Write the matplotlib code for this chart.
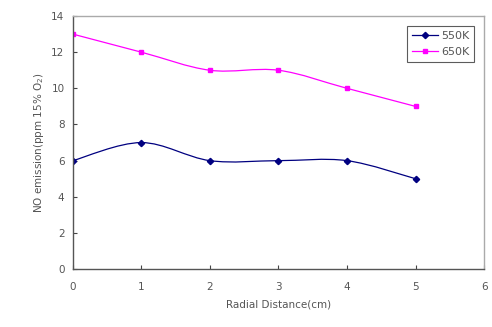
import matplotlib.pyplot as plt
from matplotlib.path import Path
from matplotlib.patches import PathPatch
from matplotlib.lines import Line2D
import numpy as np

radial = [0, 1, 2, 3, 4, 5]
no_550k = [6, 7, 6, 6, 6, 5]
no_650k = [13, 12, 11, 11, 10, 9]


def smooth_path(xs, ys):
    # Catmull-Rom style bezier through the data points (like Excel smoothed lines)
    pts = np.column_stack([xs, ys]).astype(float)
    n = len(pts)
    verts = [pts[0]]
    codes = [Path.MOVETO]
    for i in range(n - 1):
        p0 = pts[i - 1] if i > 0 else pts[i]
        p1 = pts[i]
        p2 = pts[i + 1]
        p3 = pts[i + 2] if i + 2 < n else pts[i + 1]
        verts += [p1 + (p2 - p0) / 6, p2 - (p3 - p1) / 6, p2]
        codes += [Path.CURVE4] * 3
    return Path(verts, codes)


fig = plt.figure(figsize=(4.92, 3.27), dpi=100)
ax = fig.add_axes([0.148, 0.177, 0.836, 0.774])

text_color = '#555555'
series = [(no_550k, '#000080', 'D', 3.2, '550K'),
          (no_650k, '#ff00ff', 's', 3.2, '650K')]
handles = []
for vals, col, mk, ms, lab in series:
    ax.add_patch(PathPatch(smooth_path(radial, vals), facecolor='none',
                           edgecolor=col, lw=0.9))
    ax.plot(radial, vals, linestyle='none', marker=mk, markersize=ms,
            color=col)
    handles.append(Line2D([], [], color=col, lw=0.9, marker=mk,
                          markersize=ms, label=lab))

ax.set_xlim(0, 6)
ax.set_ylim(0, 14)
ax.set_xticks(range(0, 7))
ax.set_yticks(range(0, 15, 2))
ax.tick_params(direction='in', length=3, width=0.8, colors='#444444',
               labelcolor=text_color, labelsize=7.5, pad=6)
ax.tick_params(axis='x', pad=9)
for side in ['left', 'bottom']:
    ax.spines[side].set_color('#555555')
    ax.spines[side].set_linewidth(1.0)
for side in ['top', 'right']:
    ax.spines[side].set_color('#aaaaaa')
    ax.spines[side].set_linewidth(1.0)

ax.set_xlabel('Radial Distance(cm)', fontsize=7.5, color=text_color, labelpad=6)
ax.set_ylabel('NO emission(ppm 15% O$_2$)', fontsize=7.5, color=text_color,
              labelpad=4)

leg = ax.legend(handles=handles, loc='upper right', fontsize=8, frameon=True,
                fancybox=False, edgecolor='#333333', handlelength=2.4,
                borderpad=0.4, labelspacing=0.6, handletextpad=0.3,
                borderaxespad=0, bbox_to_anchor=(0.976, 0.96))
leg.get_frame().set_linewidth(0.8)
for t in leg.get_texts():
    t.set_color(text_color)

fig.savefig('out.png', dpi=100)
